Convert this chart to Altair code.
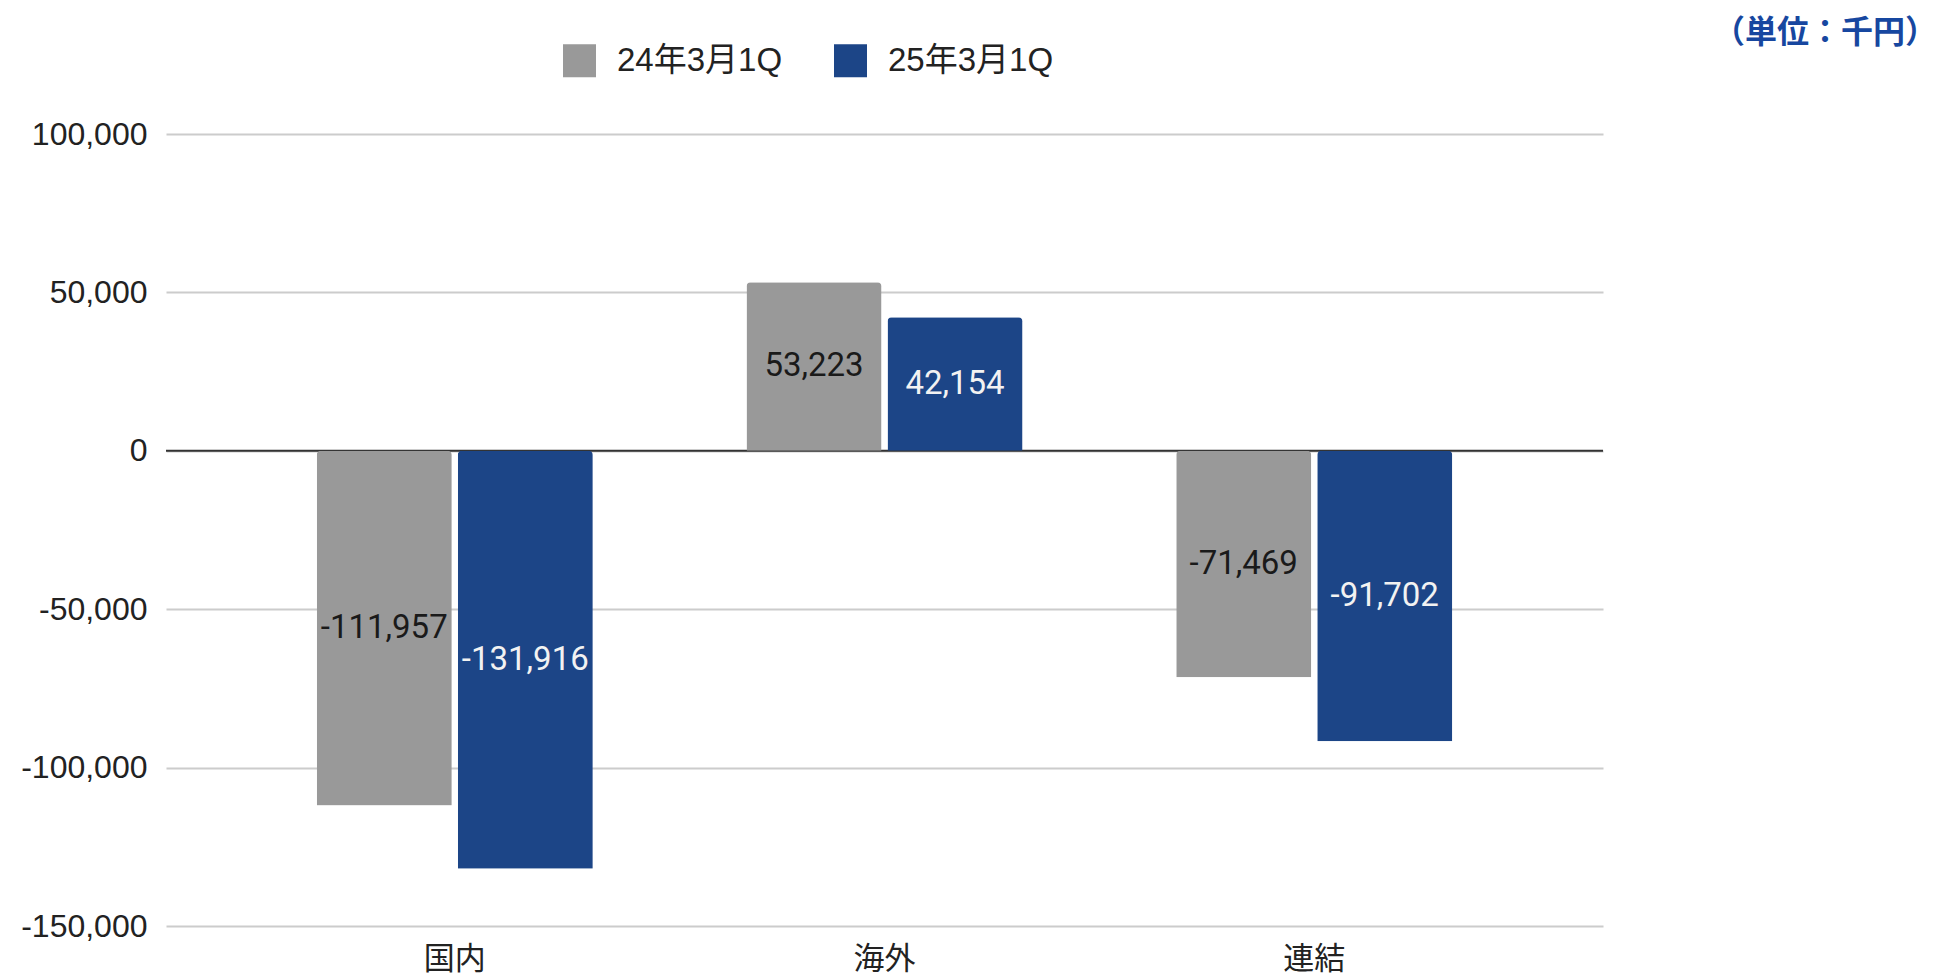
import altair as alt
import pandas as pd

categories = ["国内", "海外", "連結"]
series_names = ["24年3月1Q", "25年3月1Q"]
values_2403 = [-111957, 53223, -71469]
values_2503 = [-131916, 42154, -91702]
y_ticks = [-150000, -100000, -50000, 0, 50000, 100000]
unit_label = "（単位：千円）"

rows = []
for c, a, b in zip(categories, values_2403, values_2503):
    rows.append({"category": c, "series": series_names[0], "value": a, "label": f"{a:,}"})
    rows.append({"category": c, "series": series_names[1], "value": b, "label": f"{b:,}"})
df = pd.DataFrame(rows)

GRAY = "#999999"
BLUE = "#1c4587"

x_enc = alt.X("category:N", sort=categories, title=None,
              scale=alt.Scale(paddingInner=0, paddingOuter=0.172),
              axis=alt.Axis(labelAngle=0, labelFont="Noto Sans CJK JP", labelFontSize=31,
                            labelColor="#222222", labelPadding=18, ticks=False, domain=False,
                            grid=False, labelBaseline="top"))
xoff_enc = alt.XOffset("series:N", sort=series_names,
                       scale=alt.Scale(paddingInner=0.0426, paddingOuter=0.545))

y_scale = alt.Scale(domain=[-150000, 100000], nice=False, zero=False)

base = alt.Chart(df)

bars = base.mark_bar(cornerRadiusEnd=4).encode(
    x=x_enc,
    xOffset=xoff_enc,
    y=alt.Y("value:Q", scale=y_scale, title=None,
            axis=alt.Axis(values=y_ticks, labelExpr="replace(format(datum.value, ','), '\u2212', '-')",
                          labelFont="Liberation Sans", labelFontSize=32, labelColor="#222222",
                          labelPadding=19, ticks=False, domain=False,
                          gridColor="#cccccc", gridWidth=2)),
    color=alt.Color("series:N", sort=series_names,
                    scale=alt.Scale(domain=series_names, range=[GRAY, BLUE]),
                    legend=alt.Legend(title=None, orient="none", direction="horizontal",
                                      legendX=397, legendY=-90,
                                      symbolType="square", symbolSize=1089, symbolStrokeWidth=0,
                                      labelFont="Liberation Sans, Noto Sans CJK JP", labelFontSize=33,
                                      labelColor="#222222", labelOffset=21, columnPadding=51,
                                      labelLimit=400)),
)

labels = base.transform_calculate(mid="datum.value / 2").mark_text(
    font="Roboto", fontSize=33, baseline="middle", align="center"
).encode(
    x=alt.X("category:N", sort=categories),
    xOffset=alt.XOffset("series:N", sort=series_names),
    y=alt.Y("mid:Q", scale=y_scale),
    text="label:N",
    color=alt.condition(alt.datum.series == series_names[0], alt.value("#1a1a1a"), alt.value("#f2f2f2")),
)

zero = alt.Chart(pd.DataFrame({"v": [0]})).mark_rule(color="#333333", strokeWidth=2).encode(
    y=alt.Y("v:Q", scale=y_scale)
)

unit = alt.Chart(pd.DataFrame({"t": [unit_label]})).mark_text(
    font="Noto Sans CJK JP", fontSize=32, fontWeight="bold", color="#1747a0",
    align="center", baseline="middle"
).encode(x=alt.value(1659), y=alt.value(-101), text="t:N")

chart = alt.layer(zero, bars, labels, unit).properties(
    width=1437, height=792,
    autosize=alt.AutoSizeParams(type="none"),
    padding={"left": 166, "top": 134, "right": 338, "bottom": 52},
).configure(background="white").configure_view(stroke=None)

chart.save("out.html", embed_options={"renderer": "svg", "actions": False})
